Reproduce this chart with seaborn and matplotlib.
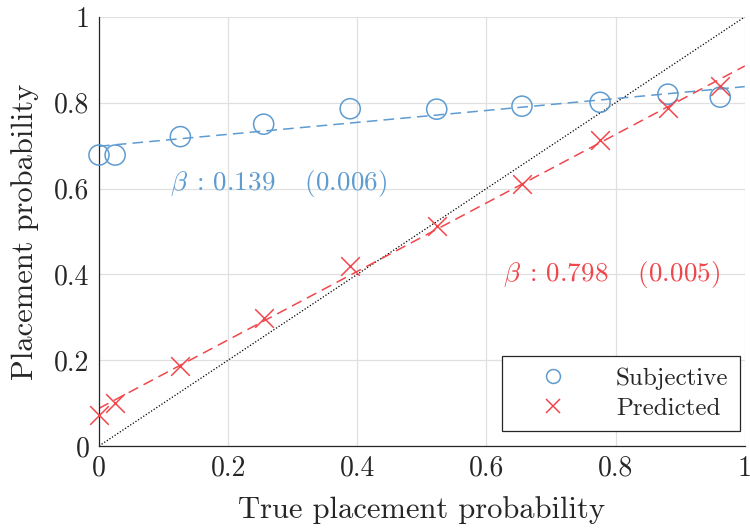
import numpy as np
import pandas as pd
import matplotlib
matplotlib.use("Agg")
import matplotlib.pyplot as plt
import seaborn as sns
from matplotlib.lines import Line2D

# True placement probability (bin centres)
true_prob = [0.000, 0.025, 0.126, 0.255, 0.389, 0.523, 0.655, 0.776, 0.881, 0.962]
# Subjective placement probability per bin
subjective = [0.678, 0.678, 0.721, 0.750, 0.786, 0.785, 0.792, 0.801, 0.820, 0.813]
# Model-predicted placement probability per bin
predicted = [0.073, 0.099, 0.187, 0.298, 0.420, 0.513, 0.611, 0.712, 0.788, 0.840]

# Regression slopes and standard errors
beta_subj, se_subj = 0.139, 0.006
beta_pred, se_pred = 0.798, 0.005

ticks = [0, 0.2, 0.4, 0.6, 0.8, 1]
tick_labels = ["0", "0.2", "0.4", "0.6", "0.8", "1"]

BLUE = "#5E9BD1"
RED = "#F0474C"

sns.set_theme(style="white")
plt.rcParams.update({
    "font.family": "serif",
    "font.serif": ["cmr10"],
    "mathtext.fontset": "cm",
    "axes.formatter.use_mathtext": True,
    "axes.unicode_minus": False,
})

subj_df = pd.DataFrame({"x": true_prob, "y": subjective})
pred_df = pd.DataFrame({"x": true_prob, "y": predicted})

fig = plt.figure(figsize=(7.5, 5.29), dpi=100)
ax = fig.add_axes([0.132, 0.157, 0.861, 0.811])

# identity reference
ax.plot([0, 1], [0, 1], color="black", lw=0.9, ls=(0, (1, 1.5)), zorder=1)

# fitted lines with the reported slopes, through the data means
xs = np.array([0.0, 1.0])
xm = np.mean(true_prob)
for vals, beta, col in [(subjective, beta_subj, BLUE), (predicted, beta_pred, RED)]:
    icpt = np.mean(vals) - beta * xm
    fit = pd.DataFrame({"x": xs, "y": icpt + beta * xs})
    sns.lineplot(data=fit, x="x", y="y", ax=ax, color=col, lw=1.1,
                 linestyle=(0, (7, 4)), zorder=2)

sns.scatterplot(data=subj_df, x="x", y="y", marker="o", s=210, ax=ax,
                facecolor="none", edgecolor=BLUE, linewidth=1.1, zorder=3,
                clip_on=False)
sns.scatterplot(data=pred_df, x="x", y="y", marker="x", s=180, ax=ax,
                color=RED, linewidth=1.1, zorder=3, clip_on=False)

ax.set_xlim(0, 1)
ax.set_ylim(0, 1)
ax.set_xticks(ticks, tick_labels)
ax.set_yticks(ticks, tick_labels)
ax.tick_params(direction="in", length=5, width=0.9, labelsize=20, color="#262626",
               pad=7)
ax.grid(True, color="#e0e0e0", lw=0.9)
for side in ["top", "right"]:
    ax.spines[side].set_visible(False)
for side in ["left", "bottom"]:
    ax.spines[side].set_color("#262626")
    ax.spines[side].set_linewidth(0.9)

ax.set_xlabel("True placement probability", fontsize=22, labelpad=10)
ax.set_ylabel("Placement probability", fontsize=22, labelpad=11)

ax.text(0.11, 0.611, rf"$\beta\;:\,{beta_subj:.3f}\quad\;({se_subj:.3f})$",
        color=BLUE, fontsize=19.5, va="center", ha="left")
ax.text(0.625, 0.40, rf"$\beta\;:\,{beta_pred:.3f}\quad\;({se_pred:.3f})$",
        color=RED, fontsize=19.5, va="center", ha="left")

handles = [Line2D([], [], ls="none", marker="o", ms=10, mfc="none", mec=BLUE, mew=1.1),
           Line2D([], [], ls="none", marker="x", ms=10, mec=RED, mew=1.1)]
leg = ax.legend(handles, ["Subjective", "Predicted"], loc="lower right",
                bbox_to_anchor=(0.992, 0.035), fontsize=18, frameon=True,
                fancybox=False, edgecolor="#262626", framealpha=1,
                handletextpad=0.9, borderpad=0.45, labelspacing=0.3,
                handlelength=3.2, borderaxespad=0.0)
leg.get_frame().set_linewidth(0.9)

fig.savefig("out.png", dpi=100)
